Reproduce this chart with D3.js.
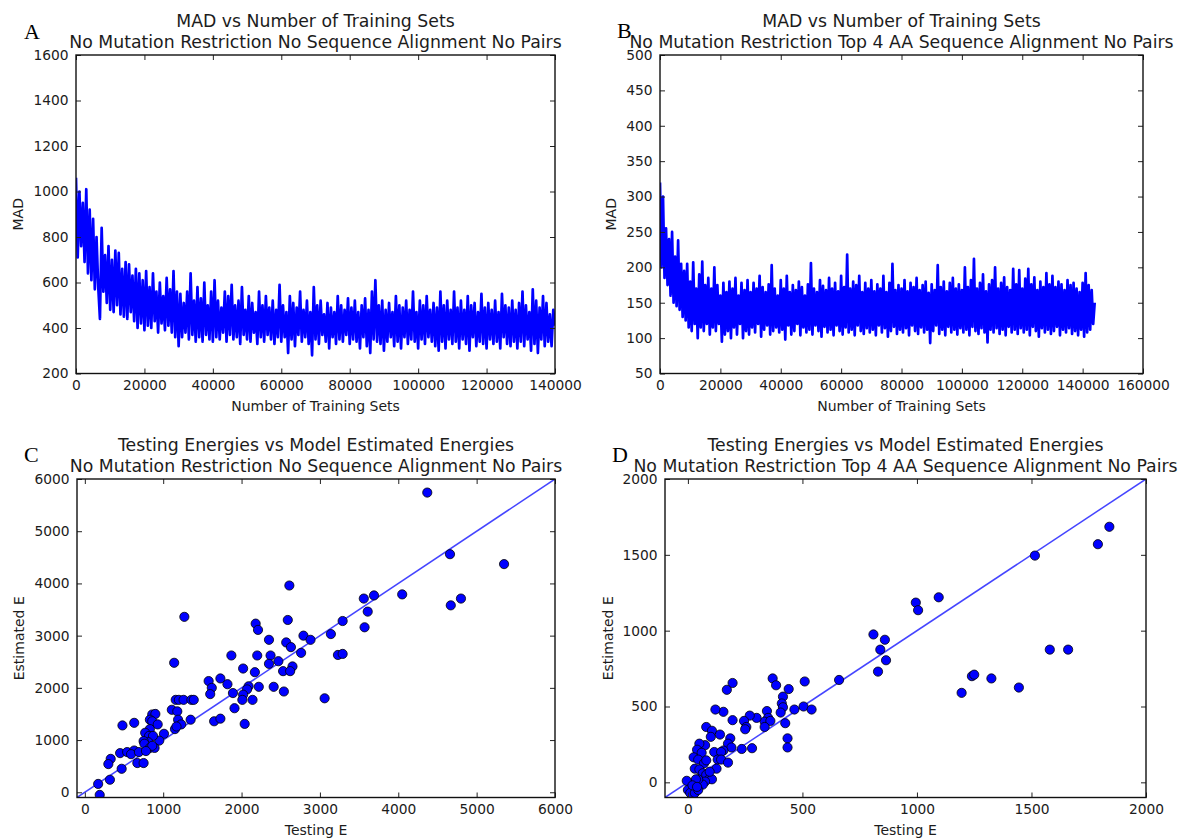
<!DOCTYPE html>
<html>
<head>
<meta charset="utf-8">
<script src="https://cdn.jsdelivr.net/npm/d3@7"></script>
<style>
  body { margin: 0; background: #fff; }
  svg text { font-family: "DejaVu Sans", sans-serif; fill: #1c1c1c; }
  svg text.letter { font-family: "Liberation Serif", "Times New Roman", serif; fill: #000; }
</style>
</head>
<body>
<svg id="fig" width="1178" height="839"></svg>
<script>
// MAD per sample of training-set counts (one value every 500 sets)
const setsStepA = 500;
const madA = [
  1060,710,1000,760,950,690,1010,640,920,610,880,570,800,580,440,840,560,720,510,760,
  480,700,470,740,500,730,460,660,450,690,440,680,470,630,430,660,400,640,420,610,
  390,650,410,580,400,640,430,560,380,600,420,540,390,620,410,570,380,650,360,560,
  320,550,360,510,380,560,350,640,370,520,340,580,360,530,340,600,370,500,350,560,
  340,610,360,520,350,490,380,560,340,540,370,590,350,500,360,520,330,580,370,480,
  350,540,340,510,380,470,330,560,360,500,340,540,370,490,350,520,330,480,360,590,
  340,500,360,470,290,540,350,510,320,490,370,560,340,480,360,520,330,470,280,580,
  350,500,330,520,370,460,340,510,310,490,360,470,330,540,350,500,340,480,370,530,
  330,490,350,520,340,470,310,500,360,530,320,480,290,560,350,610,340,500,330,520,
  300,480,340,510,360,470,320,540,340,500,310,490,360,520,330,480,350,560,340,470,
  310,520,350,500,330,540,360,480,340,510,320,490,300,560,340,500,310,520,350,480,
  330,560,340,490,310,520,350,480,330,540,300,500,360,510,320,470,340,550,330,490,
  310,510,350,480,330,520,340,470,310,550,360,500,330,490,320,520,340,480,310,510,
  340,560,320,500,350,470,300,570,330,520,290,490,350,540,320,510,340,460,320,480,
  410
];

const setsStepB = 500;
const madB = [
  320,200,300,185,255,175,240,160,250,150,215,145,238,140,205,130,195,125,205,115,
  180,110,207,120,170,100,190,115,208,110,175,120,185,105,170,115,200,110,175,120,
  160,95,178,105,165,110,180,100,170,115,185,105,160,120,178,100,168,110,182,105,
  165,115,178,108,170,120,188,102,172,112,165,118,176,105,203,110,170,115,160,108,
  182,112,170,98,188,118,165,105,175,110,168,120,180,104,172,115,160,108,176,112,
  206,105,170,118,165,110,182,102,174,116,168,108,185,112,170,104,178,118,166,110,
  188,105,172,115,218,108,170,112,180,104,175,118,188,110,165,106,178,114,170,108,
  182,112,166,104,176,118,170,108,188,114,165,102,178,110,205,116,168,106,175,112,
  170,108,182,114,166,104,178,118,172,110,185,106,168,115,175,108,180,112,164,93,
  176,110,168,118,203,106,172,112,180,104,166,116,178,108,185,112,170,105,176,114,
  168,108,200,112,172,104,182,116,212,110,170,106,178,114,190,108,166,94,176,112,
  182,108,200,114,170,106,178,112,186,104,172,116,168,108,198,112,176,106,196,114,
  170,108,184,112,198,104,176,116,186,110,168,102,180,114,172,108,192,112,176,106,
  188,110,172,116,180,104,176,112,168,108,182,114,175,106,178,110,170,104,165,112,
  178,102,192,108,175,112,168,120,150
];

// [testing E, estimated E]
const energiesC = [
  [4370,5740],[4660,4560],[5350,4370],[2610,3960],[4050,3790],[3560,3710],[3690,3770],[4800,3710],
  [4670,3580],[3610,3460],[1270,3360],[2180,3230],[2210,3110],[2590,3300],[3290,3280],[3570,3160],
  [3140,3030],[2790,3000],[2880,2920],[2350,2920],[2570,2870],[2630,2780],[2760,2670],[3230,2630],
  [3290,2650],[1870,2620],[2200,2620],[2370,2620],[2470,2510],[2350,2460],[1140,2480],[2650,2410],
  [2020,2370],[2170,2300],[2530,2320],[2620,2320],[1580,2130],[1730,2180],[1820,2070],[1620,2000],
  [1600,1880],[2220,2020],[2410,2020],[2090,2030],[2070,1970],[2020,1870],[1890,1900],[2540,1930],
  [2010,1770],[2140,1770],[1910,1610],[3060,1800],[1160,1770],[1200,1770],[1260,1770],[1360,1770],
  [1390,1770],[1110,1580],[1180,1550],[1190,1390],[1350,1390],[1230,1300],[1150,1210],[1170,1260],
  [1650,1360],[1730,1410],[2040,1310],[860,1490],[900,1500],[830,1390],[860,1360],[930,1300],
  [830,1210],[770,1140],[820,1080],[1010,1120],[950,990],[870,1080],[810,960],[750,980],
  [760,930],[830,850],[890,850],[860,890],[480,1280],[630,1330],[450,750],[540,770],
  [630,800],[590,730],[690,770],[780,790],[330,640],[300,540],[470,450],[670,560],
  [750,560],[320,240],[170,160],[190,-50]
];

const energiesD = [
  [1840,1685],[1790,1570],[1515,1495],[1095,1220],[995,1185],[1005,1135],[810,975],[860,940],
  [840,875],[865,805],[830,730],[1580,875],[1660,875],[1240,700],[1250,710],[1325,685],
  [1445,625],[1195,590],[660,675],[510,665],[505,500],[540,480],[465,480],[440,615],
  [415,565],[410,520],[415,495],[405,460],[425,390],[435,290],[435,230],[370,685],
  [385,640],[345,470],[350,425],[335,400],[360,405],[335,365],[300,425],[270,440],
  [245,405],[255,365],[250,350],[280,225],[235,220],[195,655],[170,610],[195,410],
  [155,465],[120,480],[80,365],[105,340],[140,315],[100,300],[185,290],[175,255],
  [190,230],[155,210],[115,200],[145,200],[130,150],[145,150],[175,130],[125,90],
  [75,245],[50,255],[40,215],[60,195],[25,165],[45,150],[70,125],[80,145],
  [30,90],[50,85],[65,60],[80,50],[95,25],[105,20],[75,5],[65,-15],
  [45,20],[35,20],[-5,10],[0,-50],[10,-70],[30,-70],[45,-50],[20,-20],
  [40,-30],[95,70]
];

const ticksA = { x: [0,20000,40000,60000,80000,100000,120000,140000], y: [200,400,600,800,1000,1200,1400,1600] };
const ticksB = { x: [0,20000,40000,60000,80000,100000,120000,140000,160000], y: [50,100,150,200,250,300,350,400,450,500] };
const ticksC = { x: [0,1000,2000,3000,4000,5000,6000], y: [0,1000,2000,3000,4000,5000,6000] };
const ticksD = { x: [0,500,1000,1500,2000], y: [0,500,1000,1500,2000] };

const titleMad = "MAD vs Number of Training Sets";
const titleEnergy = "Testing Energies vs Model Estimated Energies";
const setupNone = "No Mutation Restriction No Sequence Alignment No Pairs";
const setupTop4 = "No Mutation Restriction Top 4 AA Sequence Alignment No Pairs";

const svg = d3.select("#fig");
let clipCount = 0;

function panel(o) {
  const g = svg.append("g");
  const x = d3.scaleLinear().domain(o.xDomain).range([o.left, o.right]);
  const y = d3.scaleLinear().domain(o.yDomain).range([o.bottom, o.top]);

  const cid = "clip" + (clipCount++);
  svg.append("clipPath").attr("id", cid).append("rect")
    .attr("x", o.left).attr("y", o.top)
    .attr("width", o.right - o.left).attr("height", o.bottom - o.top);
  const plot = g.append("g").attr("clip-path", `url(#${cid})`);

  if (o.series) {
    const line = d3.line().x((d, i) => x(i * o.step)).y(d => y(d));
    plot.append("path").datum(o.series)
      .attr("d", line).attr("fill", "none")
      .attr("stroke", "#0000ff").attr("stroke-width", 2.7)
      .attr("stroke-linejoin", "round");
  }
  if (o.points) {
    const lo = Math.max(o.xDomain[0], o.yDomain[0]);
    const hi = Math.min(o.xDomain[1], o.yDomain[1]);
    plot.append("line")
      .attr("x1", x(lo)).attr("y1", y(lo)).attr("x2", x(hi)).attr("y2", y(hi))
      .attr("stroke", "#4545ff").attr("stroke-width", 1.5);
    plot.selectAll("circle").data(o.points).join("circle")
      .attr("cx", d => x(d[0])).attr("cy", d => y(d[1])).attr("r", 4.6)
      .attr("fill", "#0000ff").attr("stroke", "#000").attr("stroke-width", 0.8);
  }

  const tickLen = -5;
  const styleAxis = sel => {
    sel.select(".domain").remove();
    sel.selectAll(".tick line").attr("stroke", "#222").attr("stroke-width", 1);
    sel.selectAll(".tick text").style("font-size", "13.8px").attr("fill", "#1c1c1c");
  };
  g.append("g").attr("transform", `translate(0,${o.bottom})`)
    .call(d3.axisBottom(x).tickValues(o.ticks.x).tickSize(tickLen).tickPadding(6.5).tickFormat(d3.format("d")))
    .call(styleAxis);
  g.append("g").attr("transform", `translate(0,${o.top})`)
    .call(d3.axisTop(x).tickValues(o.ticks.x).tickSize(tickLen).tickFormat(""))
    .call(styleAxis);
  g.append("g").attr("transform", `translate(${o.left},0)`)
    .call(d3.axisLeft(y).tickValues(o.ticks.y).tickSize(tickLen).tickPadding(7.5).tickFormat(d3.format("d")))
    .call(styleAxis);
  g.append("g").attr("transform", `translate(${o.right},0)`)
    .call(d3.axisRight(y).tickValues(o.ticks.y).tickSize(tickLen).tickFormat(""))
    .call(styleAxis);

  g.append("rect")
    .attr("x", o.left).attr("y", o.top)
    .attr("width", o.right - o.left).attr("height", o.bottom - o.top)
    .attr("fill", "none").attr("stroke", "#111").attr("stroke-width", 1.4);

  const cx = (o.left + o.right) / 2;
  g.append("text").attr("x", cx).attr("y", o.top - 28.5).attr("text-anchor", "middle")
    .style("font-size", "17.3px").text(o.title[0]);
  g.append("text").attr("x", cx).attr("y", o.top - 7.5).attr("text-anchor", "middle")
    .style("font-size", "17.3px").text(o.title[1]);

  g.append("text").attr("x", cx).attr("y", o.bottom + 37.5).attr("text-anchor", "middle")
    .style("font-size", "14px").text(o.xLabel);
  g.append("text")
    .attr("transform", `translate(${o.yLabelX},${(o.top + o.bottom) / 2}) rotate(-90)`)
    .attr("text-anchor", "middle").attr("dy", "0.35em")
    .style("font-size", "14px").text(o.yLabel);

  g.append("text").attr("class", "letter")
    .attr("x", o.letterX).attr("y", o.letterY)
    .style("font-size", "22px").text(o.letter);
}

panel({
  letter: "A", letterX: 24, letterY: 39,
  left: 76, right: 555, top: 55, bottom: 373.5,
  xDomain: [0, 140000], yDomain: [200, 1600], ticks: ticksA,
  series: madA, step: setsStepA,
  title: [titleMad, setupNone], xLabel: "Number of Training Sets", yLabel: "MAD", yLabelX: 18
});
panel({
  letter: "B", letterX: 617, letterY: 37.5,
  left: 660, right: 1143, top: 55, bottom: 373.5,
  xDomain: [0, 160000], yDomain: [50, 500], ticks: ticksB,
  series: madB, step: setsStepB,
  title: [titleMad, setupTop4], xLabel: "Number of Training Sets", yLabel: "MAD", yLabelX: 611
});
panel({
  letter: "C", letterX: 24, letterY: 462,
  left: 77, right: 555, top: 479, bottom: 797.5,
  xDomain: [-100, 6000], yDomain: [-100, 6000], ticks: ticksC,
  points: energiesC,
  title: [titleEnergy, setupNone], xLabel: "Testing E", yLabel: "Estimated E", yLabelX: 19
});
panel({
  letter: "D", letterX: 612, letterY: 462,
  left: 665, right: 1146, top: 479, bottom: 797.5,
  xDomain: [-100, 2000], yDomain: [-100, 2000], ticks: ticksD,
  points: energiesD,
  title: [titleEnergy, setupTop4], xLabel: "Testing E", yLabel: "Estimated E", yLabelX: 608
});
</script>
</body>
</html>
